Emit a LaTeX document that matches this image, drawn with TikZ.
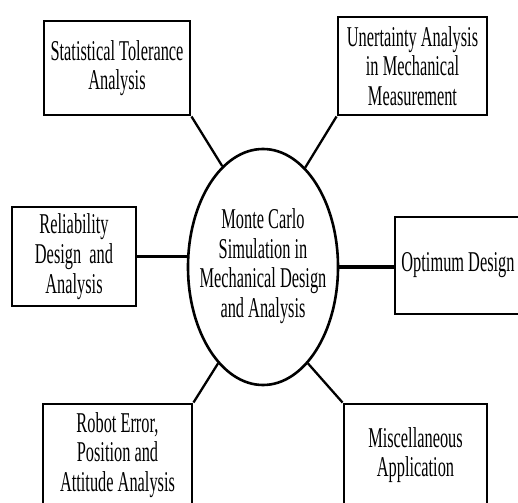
\documentclass[tikz,border=0pt]{standalone}
\usepackage{fontspec}
\setmainfont{Liberation Serif}[FakeStretch=0.57]
\usetikzlibrary{shapes.geometric}
\begin{document}
\begin{tikzpicture}[x=1pt,y=-1pt,
  txt/.style={font=\fontsize{28.7pt}{29.7pt}\selectfont, align=center, inner sep=0pt},
  box/.style={txt, draw, line width=2.9pt},
  conn/.style={line width=2.3pt},
  hconn/.style={line width=3.8pt}]
\useasboundingbox (0,0) rectangle (518,502);
\clip (0,0) rectangle (518,502);
\node[box, minimum width=146pt, minimum height=94pt] (tl) at (117,68) {Statistical Tolerance\\Analysis};
\node[box, minimum width=149pt, minimum height=98pt] (tr) at (412.5,66) {Unertainty Analysis\\in Mechanical\\Measurement};
\node[box, minimum width=124pt, minimum height=99pt] (l) at (74,256.5) {Reliability\\Design\ \ and\\Analysis};
\node[box, minimum width=126pt, minimum height=97pt] (r) at (458,265.5) {Optimum Design};
\node[box, minimum width=149pt, minimum height=102pt] (bl) at (117.5,455) {Robot Error,\\Position and\\Attitude Analysis};
\node[box, minimum width=143pt, minimum height=102pt] (br) at (415.5,455) {Miscellaneous\\Application};
\node[draw, ellipse, line width=2.6pt, minimum width=150pt, minimum height=236pt, inner sep=0pt] (c) at (263,267) {};
\node[txt] (ctext) at (263,266) {Monte Carlo\\Simulation in\\Mechanical Design\\and Analysis};
\draw[conn] (tl.south east) -- (c.112.5);
\draw[conn] (tr.south west) -- (c.67);
\draw[conn] (bl.north east) -- (c.245);
\draw[conn] (br.north west) -- (c.295);
\draw[hconn] (l.east) -- (l.east -| c.west);
\draw[hconn] (c.east) -- (c.east -| r.west);
\end{tikzpicture}
\end{document}
